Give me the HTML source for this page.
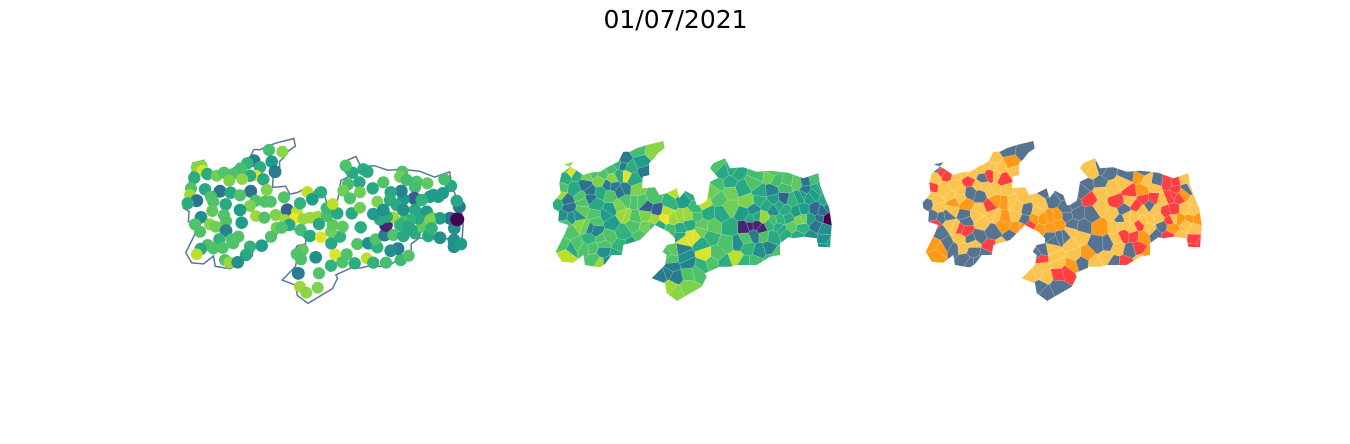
<!DOCTYPE html>
<html lang="pt">
<head>
<meta charset="utf-8">
<title>01/07/2021</title>
<style>
html,body{margin:0;padding:0;background:#fff;}
body{width:1350px;height:444px;overflow:hidden;}
svg{display:block;}
</style>
</head>
<body>
<svg id="figure" xmlns="http://www.w3.org/2000/svg" width="1350" height="444" viewBox="0 0 1350 444">
  <rect x="0" y="0" width="1350" height="444" fill="#fff"/>
  <text x="675.5" y="28" text-anchor="middle" font-family="'DejaVu Sans', sans-serif" font-size="25" fill="#000">01/07/2021</text>
  <defs id="defs"></defs>
  <g id="panel-points"></g>
  <g id="panel-choropleth"></g>
  <g id="panel-classes"></g>
</svg>
<script>
// Municipality centroids in map-grid units
const mapX = [
297,337,252,305,315,232,212,270,258,240,
280,95,80,97,112,73,140,162,187,178,
217,63,105,150,182,242,290,210,60,123,
80,53,130,167,257,285,302,240,342,210,
127,352,380,412,453,427,390,373,93,162,
168,215,258,283,317,345,358,400,420,443,
392,447,320,335,120,137,75,90,168,148,
303,420,452,205,185,190,113,130,158,92,
240,275,80,228,165,178,203,398,380,393,
437,495,530,517,483,447,385,390,443,409,
554,590,610,648,692,716,684,662,484,510,
483,488,518,471,470,502,488,545,570,572,
562,595,622,617,644,648,670,700,735,755,
725,775,810,852,852,873,853,840,862,868,
860,843,823,818,805,790,780,772,740,735,
733,700,694,697,690,710,640,662,608,622,
568,534,547,527,580,592,520,540,570,660,
680,700,735,770,755,790,810,780,745,720,
700,670,650,630,610,640,690,715,785];
const mapY = [
60,65,92,95,125,100,115,112,137,137,
148,108,112,122,132,143,137,128,133,152,
147,175,178,184,188,184,180,196,195,200,
212,220,215,223,212,215,215,228,202,240,
243,240,245,186,187,208,220,265,262,255,
273,278,258,263,255,270,285,267,263,260,
300,282,293,293,283,290,283,305,302,328,
320,318,322,320,328,340,345,355,353,357,
350,347,373,375,390,398,397,360,372,388,
382,373,373,397,407,430,430,470,473,488,
400,385,398,398,390,377,356,362,340,320,
305,285,290,258,235,250,222,250,233,292,
342,340,352,328,315,285,315,318,310,290,
300,318,323,330,350,342,295,265,268,230,
213,168,148,190,200,195,200,160,155,172,
205,208,183,125,140,150,157,187,175,215,
157,163,128,107,118,125,182,205,187,210,
225,240,240,245,210,265,265,270,265,270,
275,262,260,268,252,240,285,290,295];
// Normalised incidence per municipality (0..1 on viridis)
const rate = [
.7,.82,.42,.55,.42,.65,.7,.62,.95,.62,
.6,.82,.82,.95,.62,.62,.78,.72,.72,.8,
.82,.72,.6,.38,.6,.38,.8,.72,.85,.72,
.38,.62,.72,.6,.72,.72,.72,.8,.72,.55,
.75,.3,.9,.9,.62,.55,.65,.98,.5,.72,
.72,.55,.85,.72,.8,.85,.6,.85,.85,.85,
.7,.6,.78,.72,.82,.78,.72,.72,.45,.65,
.72,.6,.95,.72,.72,.72,.72,.72,.72,.6,
.65,.55,.9,.6,.72,.85,.5,.75,.72,.72,
.5,.95,.72,.72,.65,.72,.42,.85,.8,.82,
.62,.9,.65,.7,.68,.72,.45,.5,.6,.65,
.78,.75,.75,.7,.68,.6,.9,.6,.78,.62,
.72,.5,.65,.72,.42,.1,.72,.6,.62,.75,
.6,.6,.5,.5,.5,.55,.5,.38,0,.4,
.6,.6,.7,.55,.55,.55,.55,.75,.72,.7,
.3,.55,.45,.72,.78,.7,.72,.6,.6,.8,
.6,.7,.6,.72,.62,.6,.78,.72,.78,.62,
.6,.5,.6,.55,.65,.78,.55,.8,.6,.65,
.7,.85,.6,.6,.55,.5,.65,.6,.65];
// Risk class per municipality: 0 low, 1 moderate, 2 high, 3 very high
const riskClass = [
0,0,1,2,1,1,1,1,1,3,
3,0,0,3,3,1,1,1,1,3,
0,3,1,1,0,1,1,0,1,1,
1,0,2,2,2,2,1,3,1,1,
1,0,1,0,0,0,1,2,0,0,
0,1,1,2,1,0,3,2,2,2,
2,2,2,2,1,1,3,0,3,1,
0,0,0,0,0,1,0,0,1,2,
3,1,2,0,0,0,0,0,0,3,
1,1,2,0,2,3,1,0,0,0,
1,1,0,3,1,2,3,0,1,1,
1,0,0,0,0,0,0,0,1,2,
0,0,1,1,3,1,3,2,0,0,
1,3,1,3,3,3,1,2,2,1,
1,1,1,2,3,3,3,3,0,1,
3,3,2,0,2,1,1,3,1,3,
0,0,1,1,0,0,0,3,1,1,
3,1,1,3,1,1,2,3,1,1,
1,1,1,0,1,0,3,1,2];
// Extra sample locations inside large municipalities (regions only, no point marker)
const extraX = [135,150,220,255,205,85,250,425,445,365,405,395,825,845,830,615,630,665,320,430,465,420,250,190,150,200,70,115,70,250,650,830,795,797,718,470,790,278];
const extraY = [165,205,168,178,165,232,105,355,400,438,440,410,240,245,285,290,285,298,232,332,320,295,255,365,295,255,258,258,345,305,135,175,155,180,228,425,240,285];
const extraRate = [.38,.38,.42,.42,.42,.38,.42,.45,.45,.42,.42,.42,.35,.35,.38,.1,.1,.1,.3,.95,.95,.6,.85,.5,.45,.55,.5,.5,.72,.65,.7,.6,.4,.4,.6,.72,.55,.72];
const extraClass = [1,1,1,1,1,1,1,1,1,1,1,1,1,1,1,1,1,1,1,0,0,2,1,0,3,1,0,0,2,0,0,0,3,3,0,3,3,2];
// State boundary in map-grid units
const borderX = [370,374,355,340,327,328,308,306,345,358,380,410,418,435,460,470,480,500,505,510,535,510,520,555,570,610,650,690,745,790,835,840,855,868,875,870,835,830,790,760,745,720,720,690,650,590,570,540,495,500,485,425,412,380,375,335,350,375,380,368,380,405,405,385,345,300,250,245,215,195,180,165,135,130,100,65,47,60,75,85,55,57,40,38,62,58,65,85,100,72,100,130,150,180,205,235,250,270,290,320];
const borderY = [33,55,68,88,100,135,140,175,172,195,190,175,205,182,195,225,225,212,190,155,143,115,100,85,115,112,125,122,128,145,130,165,205,235,285,352,350,325,320,325,322,340,375,380,405,405,410,410,430,440,470,505,513,490,460,445,430,405,375,365,345,340,325,305,285,330,345,375,375,402,412,410,405,375,398,395,365,340,310,285,275,245,235,218,190,160,130,115,97,103,115,135,128,125,110,95,65,65,55,45];
const riskColors = ['#56748f','#fbc44f','#fd9a17','#fe4040'];
const viridisStops = ['#440154','#482878','#3e4989','#31688e','#26828e','#1f9e89','#35b779','#6ece58','#b5de2b','#fde725'];

const NS = 'http://www.w3.org/2000/svg';
const seedX = mapX.concat(extraX);
const seedY = mapY.concat(extraY);
const seedRate = rate.concat(extraRate);
const seedClass = riskClass.concat(extraClass);

// Axis functions: map-grid units to page position for each panel origin
function xAxis(origin, scale){ return function(v){ return origin + v * scale / 3; }; }
function yAxis(origin, scale){ return function(v){ return origin + ((v - 273) * scale + 273) / 3; }; }
function colorAxis(t){
  const p = Math.max(0, Math.min(1, t)) * (viridisStops.length - 1);
  const i = Math.min(viridisStops.length - 2, Math.floor(p));
  const f = p - i;
  const a = viridisStops[i], b = viridisStops[i + 1];
  const ch = function(o){
    const ca = parseInt(a.substr(o, 2), 16), cb = parseInt(b.substr(o, 2), 16);
    return Math.round(ca + (cb - ca) * f);
  };
  return 'rgb(' + ch(1) + ',' + ch(3) + ',' + ch(5) + ')';
}

// Voronoi cell of a seed, by half-plane clipping of the bounding box
function voronoiCell(k){
  let poly = [[0, 0], [920, 0], [920, 540], [0, 540]];
  for (let j = 0; j < seedX.length && j < seedY.length; j++) {
    if (j === k) continue;
    const mx = (seedX[k] + seedX[j]) / 2, my = (seedY[k] + seedY[j]) / 2;
    const nx = seedX[j] - seedX[k], ny = seedY[j] - seedY[k];
    if (nx === 0 && ny === 0) continue;
    const out = [];
    for (let i = 0; i < poly.length; i++) {
      const p = poly[i], q = poly[(i + 1) % poly.length];
      const dp = (p[0] - mx) * nx + (p[1] - my) * ny;
      const dq = (q[0] - mx) * nx + (q[1] - my) * ny;
      if (dp <= 0) out.push(p);
      if ((dp < 0 && dq > 0) || (dp > 0 && dq < 0)) {
        const t = dp / (dp - dq);
        out.push([p[0] + (q[0] - p[0]) * t, p[1] + (q[1] - p[1]) * t]);
      }
    }
    poly = out;
    if (!poly.length) break;
  }
  return poly;
}

function borderPoints(x, y){
  return borderX.map(function(v, i){ return x(v).toFixed(1) + ',' + y(borderY[i]).toFixed(1); }).join(' ');
}

function drawRegions(groupId, clipId, originX, fillFor){
  const x = xAxis(originX, 1), y = yAxis(130, 1);
  const clip = document.createElementNS(NS, 'clipPath');
  clip.setAttribute('id', clipId);
  const shape = document.createElementNS(NS, 'polygon');
  shape.setAttribute('points', borderPoints(x, y));
  clip.appendChild(shape);
  document.getElementById('defs').appendChild(clip);
  const g = document.getElementById(groupId);
  const inner = document.createElementNS(NS, 'g');
  inner.setAttribute('clip-path', 'url(#' + clipId + ')');
  g.appendChild(inner);
  for (let k = 0; k < seedX.length; k++) {
    const cell = voronoiCell(k);
    if (!cell.length) continue;
    const poly = document.createElementNS(NS, 'polygon');
    
    
    poly.setAttribute('points', cell.map(function(p){ return x(p[0]).toFixed(1) + ',' + y(p[1]).toFixed(1); }).join(' '));
    poly.setAttribute('fill', fillFor(k));
    poly.setAttribute('stroke', '#ffffff');
    poly.setAttribute('stroke-opacity', '0.3');
    poly.setAttribute('stroke-width', '0.5');
    inner.appendChild(poly);
  }
}

(function drawPoints(){
  const g = document.getElementById('panel-points');
  const xb = xAxis(170, 1.005), yb = yAxis(130, 1.03);
  const outline = document.createElementNS(NS, 'polygon');
  
  
  outline.setAttribute('points', borderPoints(xb, yb));
  outline.setAttribute('fill', 'none');
  outline.setAttribute('stroke', '#5a7896');
  outline.setAttribute('stroke-width', '1.5');
  g.appendChild(outline);
  const x = xAxis(170, 1), y = yAxis(130, 1);
  for (let k = 0; k < mapX.length; k++) {
    const c = document.createElementNS(NS, 'circle');
    
    
    c.setAttribute('cx', x(mapX[k]).toFixed(1));
    c.setAttribute('cy', y(mapY[k]).toFixed(1));
    c.setAttribute('r', (7 - 1.3 * rate[k]).toFixed(2));
    c.setAttribute('fill', colorAxis(rate[k]));
    g.appendChild(c);
  }
})();

drawRegions('panel-choropleth', 'clip-choropleth', 540, function(k){ return colorAxis(seedRate[k]); });
drawRegions('panel-classes', 'clip-classes', 910, function(k){ return riskColors[seedClass[k]]; });
</script>
</body>
</html>
